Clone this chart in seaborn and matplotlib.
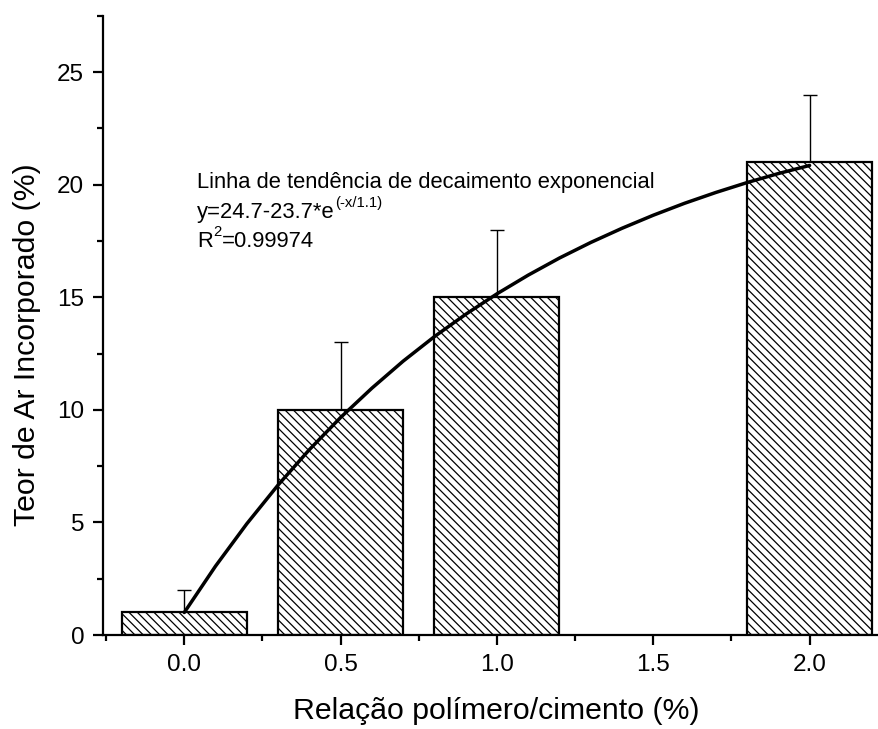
import matplotlib
matplotlib.use("Agg")
import matplotlib.pyplot as plt
import seaborn as sns
import pandas as pd

# Data
ratio = [0.0, 0.5, 1.0, 2.0]
air_content = [1.0, 10.0, 15.0, 21.0]
air_err_upper = [1.0, 3.0, 3.0, 3.0]
xticks = [0.0, 0.5, 1.0, 1.5, 2.0]
xtick_labels = ["0.0", "0.5", "1.0", "1.5", "2.0"]
yticks = [0, 5, 10, 15, 20, 25]

# Trend line points
trend_x = [0.0, 0.1, 0.2, 0.3, 0.4, 0.5, 0.6, 0.7, 0.8, 0.9, 1.0,
           1.1, 1.2, 1.3, 1.4, 1.5, 1.6, 1.7, 1.8, 1.9, 2.0]
trend_y = [1.00, 3.06, 4.94, 6.66, 8.23, 9.66, 10.96, 12.16, 13.25, 14.24, 15.15,
           15.98, 16.74, 17.43, 18.06, 18.64, 19.17, 19.65, 20.09, 20.49, 20.85]

sns.set_theme(style="ticks")
plt.rcParams['font.family'] = ['Liberation Sans', 'DejaVu Sans']
plt.rcParams['hatch.linewidth'] = 0.9
plt.rcParams['hatch.color'] = 'black'
plt.rcParams['text.color'] = 'black'
plt.rcParams['axes.labelcolor'] = 'black'

fig = plt.figure(figsize=(8.79, 7.29), dpi=100)
ax = fig.add_axes([103/879, 1-635/729, 1-103/879, (635-15.7)/729])

df = pd.DataFrame({"x": ratio, "y": air_content})
ax.bar(df["x"], df["y"], width=0.4, color="white", edgecolor="black",
       linewidth=1.6, hatch="\\\\\\\\", zorder=2)
ax.errorbar(ratio, air_content, yerr=[[0]*len(ratio), air_err_upper], fmt='none',
            ecolor='black', elinewidth=1.0, capsize=4.7, capthick=1.0, zorder=1)

tdf = pd.DataFrame({"x": trend_x, "y": trend_y})
sns.lineplot(data=tdf, x="x", y="y", ax=ax, color="black", linewidth=2.5, zorder=3)

ax.set_xlim(-0.26, 2.222)
ax.set_ylim(0, 27.5)
ax.set_xticks(xticks)
ax.set_xticklabels(xtick_labels)
ax.set_yticks(yticks)
ax.set_xticks([-0.25, 0.25, 0.75, 1.25, 1.75], minor=True)
ax.set_yticks([2.5, 7.5, 12.5, 17.5, 22.5, 27.5], minor=True)

for s in ['top', 'right']:
    ax.spines[s].set_visible(False)
for s in ['left', 'bottom']:
    ax.spines[s].set_linewidth(1.6)
    ax.spines[s].set_color('black')

ax.tick_params(axis='both', which='major', direction='out', length=7.5, width=1.6,
               labelsize=17.5, colors='black', pad=6)
ax.tick_params(axis='both', which='minor', direction='out', length=4, width=1.6,
               colors='black')

ax.set_xlabel("Relação polímero/cimento (%)", fontsize=21.8)
ax.set_ylabel("Teor de Ar Incorporado (%)", fontsize=21.8)
ax.xaxis.set_label_coords(0.507, -0.100)
ax.yaxis.set_label_coords(-0.080, 0.468)

fs = 15.8
ax.text(0.042, 19.87, "Linha de tendência de decaimento exponencial", fontsize=fs, va='baseline')
t2 = ax.text(0.042, 18.52, "y=24.7-23.7*e", fontsize=fs, va='baseline')
ax.annotate("(-x/1.1)", xy=(1.0, 0.62), xycoords=t2, fontsize=fs*0.68,
            ha='left', va='bottom')
t3 = ax.text(0.042, 17.24, "R", fontsize=fs, va='baseline')
t3b = ax.annotate("2", xy=(1.0, 0.62), xycoords=t3, fontsize=fs*0.68,
                  ha='left', va='bottom')
ax.annotate("=0.99974", xy=(1.0, 0.0), xycoords=(t3b, t3), fontsize=fs,
            ha='left', va='bottom')

fig.savefig("out.png", dpi=100)
